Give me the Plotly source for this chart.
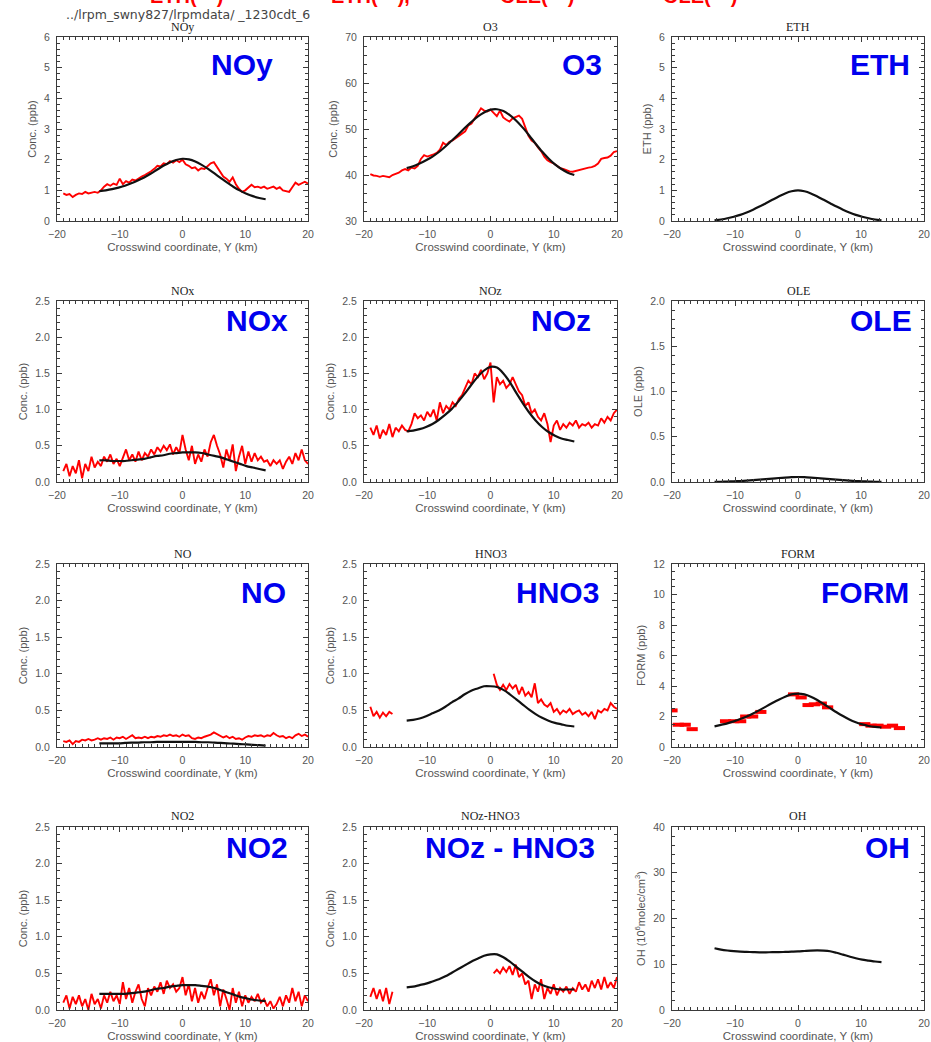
import numpy as np
import plotly.graph_objects as go

W, H = 931, 1042

# ---------------- data ----------------
OBS_X = np.round(np.arange(-19.0, 20.001, 0.5), 2)          # 79 samples, km
MODEL_X = np.round(np.linspace(-13.25, 13.25, 27), 3)         # model crosswind grid, km

NOY_OBS = [0.90, 0.85, 0.88, 0.78, 0.85, 0.90, 0.88, 0.95, 0.90, 0.92,
           0.95, 0.92, 1.00, 1.12, 1.20, 1.15, 1.22, 1.18, 1.38, 1.20,
           1.30, 1.25, 1.35, 1.32, 1.40, 1.45, 1.50, 1.55, 1.62, 1.70,
           1.80, 1.78, 1.88, 1.85, 1.95, 1.90, 1.98, 1.92, 2.00, 1.85,
           1.80, 1.72, 1.75, 1.65, 1.72, 1.70, 1.78, 1.88, 1.92, 1.75,
           1.60, 1.45, 1.38, 1.28, 1.42, 1.20, 1.05, 0.95, 1.00, 1.10,
           1.18, 1.10, 1.12, 1.08, 1.12, 1.05, 1.08, 1.12, 1.05, 1.10,
           1.00, 0.98, 0.95, 1.10, 1.25, 1.18, 1.22, 1.28, 1.22]
NOY_MOD = [0.97, 1.00, 1.04, 1.09, 1.15, 1.23, 1.32, 1.42, 1.54, 1.67, 1.80, 1.91, 1.99, 2.03,
           2.01, 1.94, 1.83, 1.70, 1.55, 1.40, 1.25, 1.11, 0.99, 0.89, 0.81, 0.75, 0.71]

O3_OBS = [40.2, 39.9, 39.8, 39.6, 39.8, 39.7, 39.5, 40.0, 40.3, 40.5,
          41.0, 41.3, 41.0, 41.6, 41.4, 42.0, 43.5, 44.3, 44.0, 44.2,
          44.5, 44.8, 45.5, 47.0, 46.5, 47.2, 47.5, 48.0, 48.5, 49.0,
          49.5, 50.8, 51.2, 52.3, 53.5, 54.5, 54.0, 53.8, 54.2, 53.5,
          52.8, 54.0, 52.5, 52.0, 51.6, 52.3, 52.6, 52.9, 52.2, 50.5,
          48.5, 47.5, 47.0, 46.0, 45.2, 44.0, 43.2, 42.8, 42.5, 42.0,
          41.5, 41.3, 41.0, 40.8, 40.7, 40.9, 41.0, 41.2, 41.5, 41.6,
          41.7, 42.0, 42.5, 43.5, 43.7, 43.8, 44.2, 45.0, 45.2]
O3_MOD = [41.5, 41.9, 42.5, 43.2, 44.0, 45.0, 46.2, 47.5, 48.8, 50.2, 51.5, 52.7, 53.6, 54.2,
          54.3, 53.9, 53.0, 51.8, 50.3, 48.6, 46.8, 45.1, 43.6, 42.3, 41.3, 40.5, 40.0]

ETH_MOD = [0.02, 0.05, 0.09, 0.14, 0.20, 0.28, 0.37, 0.47, 0.58, 0.69, 0.80, 0.90, 0.97, 1.00,
           0.97, 0.90, 0.80, 0.69, 0.58, 0.47, 0.37, 0.28, 0.20, 0.14, 0.09, 0.05, 0.02]

NOX_OBS = [0.15, 0.25, 0.08, 0.22, 0.12, 0.30, 0.05, 0.25, 0.15, 0.35,
           0.20, 0.28, 0.22, 0.35, 0.28, 0.38, 0.25, 0.32, 0.22, 0.35,
           0.45, 0.30, 0.38, 0.28, 0.42, 0.30, 0.40, 0.35, 0.45, 0.38,
           0.48, 0.42, 0.50, 0.44, 0.52, 0.38, 0.48, 0.40, 0.65, 0.45,
           0.30, 0.50, 0.25, 0.38, 0.28, 0.45, 0.35, 0.55, 0.65, 0.50,
           0.38, 0.20, 0.45, 0.30, 0.52, 0.15, 0.35, 0.50, 0.25, 0.42,
           0.28, 0.40, 0.30, 0.35, 0.28, 0.30, 0.22, 0.30, 0.25, 0.30,
           0.18, 0.28, 0.35, 0.25, 0.40, 0.30, 0.45, 0.30, 0.25]
NOX_MOD = [0.30, 0.30, 0.29, 0.29, 0.29, 0.30, 0.31, 0.32, 0.34, 0.36, 0.37, 0.39, 0.40, 0.41,
           0.41, 0.41, 0.40, 0.38, 0.36, 0.34, 0.31, 0.28, 0.25, 0.22, 0.20, 0.18, 0.16]

NOZ_OBS = [0.75, 0.65, 0.78, 0.60, 0.72, 0.65, 0.80, 0.62, 0.75, 0.70,
           0.78, 0.72, 0.70, 0.80, 0.95, 0.88, 0.92, 0.85, 0.97, 0.90,
           1.00, 0.85, 1.10, 0.95, 1.05, 1.00, 1.10, 1.05, 1.15, 1.20,
           1.30, 1.40, 1.35, 1.50, 1.45, 1.55, 1.42, 1.50, 1.65, 1.10,
           1.45, 1.35, 1.40, 1.30, 1.35, 1.45, 1.35, 1.25, 1.20, 1.05,
           1.10, 0.95, 1.00, 0.90, 0.85, 0.95, 0.80, 0.55, 0.78, 0.85,
           0.72, 0.80, 0.75, 0.82, 0.78, 0.85, 0.75, 0.80, 0.78, 0.82,
           0.75, 0.80, 0.78, 0.88, 0.82, 0.90, 0.85, 0.95, 1.00]
NOZ_MOD = [0.70, 0.71, 0.73, 0.76, 0.80, 0.86, 0.93, 1.01, 1.11, 1.22, 1.34, 1.45, 1.54, 1.59,
           1.58, 1.50, 1.38, 1.23, 1.09, 0.96, 0.85, 0.76, 0.69, 0.64, 0.60, 0.58, 0.56]

OLE_MOD = [0.001, 0.003, 0.005, 0.008, 0.011, 0.015, 0.020, 0.026, 0.032, 0.038, 0.044, 0.049, 0.053, 0.055,
           0.053, 0.049, 0.044, 0.038, 0.032, 0.026, 0.020, 0.015, 0.011, 0.008, 0.005, 0.003, 0.001]

NO_OBS = [0.08, 0.07, 0.09, 0.04, 0.08, 0.07, 0.10, 0.09, 0.11, 0.09,
          0.10, 0.12, 0.10, 0.12, 0.11, 0.13, 0.10, 0.13, 0.12, 0.14,
          0.11, 0.13, 0.16, 0.12, 0.13, 0.12, 0.14, 0.12, 0.14, 0.13,
          0.15, 0.14, 0.16, 0.15, 0.17, 0.15, 0.16, 0.14, 0.17, 0.15,
          0.16, 0.12, 0.11, 0.13, 0.12, 0.14, 0.15, 0.17, 0.20, 0.18,
          0.15, 0.13, 0.15, 0.12, 0.14, 0.11, 0.12, 0.10, 0.13, 0.15,
          0.14, 0.16, 0.15, 0.16, 0.14, 0.16, 0.15, 0.19, 0.16, 0.14,
          0.15, 0.12, 0.14, 0.12, 0.16, 0.18, 0.15, 0.17, 0.14]
NO_MOD = [0.050, 0.050, 0.050, 0.050, 0.055, 0.060, 0.060, 0.065, 0.065, 0.070, 0.070, 0.070, 0.070, 0.070,
          0.070, 0.070, 0.065, 0.065, 0.060, 0.055, 0.050, 0.045, 0.040, 0.035, 0.030, 0.025, 0.020]

HNO3_OBS = ([0.55, 0.42, 0.48, 0.40, 0.47, 0.42, 0.48, 0.45]
            + [None] * 31
            + [1.00, 0.85, 0.78, 0.85, 0.78, 0.86, 0.80, 0.85, 0.72, 0.82,
               0.70, 0.75, 0.68, 0.87, 0.60, 0.65, 0.58, 0.55, 0.60, 0.48,
               0.52, 0.45, 0.50, 0.47, 0.52, 0.45, 0.48, 0.50, 0.44, 0.47,
               0.42, 0.48, 0.38, 0.50, 0.47, 0.52, 0.50, 0.60, 0.55, 0.52])
HNO3_MOD = [0.36, 0.37, 0.39, 0.42, 0.46, 0.50, 0.55, 0.61, 0.66, 0.72, 0.77, 0.80, 0.83, 0.83,
            0.82, 0.78, 0.72, 0.65, 0.58, 0.51, 0.45, 0.40, 0.36, 0.33, 0.31, 0.29, 0.28]

FORM_OBS_X = [-20.0, -19.0, -17.9, -16.8, -11.5, -10.2, -9.1, -8.3, -7.2, -5.9, -0.7,
              0.5, 1.6, 2.6, 3.7, 4.7, 10.6, 11.6, 12.7, 13.9, 15.0, 16.1]
FORM_OBS = [2.40, 1.46, 1.46, 1.17, 1.69, 1.69, 1.69, 2.00, 2.00, 2.30, 3.45,
            3.25, 2.75, 2.80, 2.85, 2.60, 1.50, 1.40, 1.40, 1.33, 1.40, 1.24]
FORM_MOD = [1.35, 1.45, 1.55, 1.68, 1.83, 2.00, 2.20, 2.42, 2.65, 2.88, 3.10, 3.30, 3.45, 3.50,
            3.45, 3.30, 3.08, 2.82, 2.55, 2.28, 2.03, 1.80, 1.62, 1.48, 1.38, 1.32, 1.28]

NO2_OBS = [0.10, 0.20, 0.02, 0.18, 0.08, 0.20, 0.05, 0.15, 0.00, 0.22,
           0.08, 0.15, 0.02, 0.20, 0.10, 0.25, 0.12, 0.20, 0.08, 0.38,
           0.15, 0.30, 0.10, 0.25, 0.35, 0.15, 0.05, 0.30, 0.20, 0.32,
           0.25, 0.38, 0.22, 0.40, 0.30, 0.35, 0.25, 0.30, 0.45, 0.20,
           0.35, 0.12, 0.30, 0.10, 0.25, 0.15, 0.30, 0.42, 0.20, 0.35,
           0.05, 0.28, 0.15, 0.00, 0.30, 0.10, 0.25, 0.05, 0.20, 0.10,
           0.18, 0.12, 0.22, 0.10, 0.15, 0.05, 0.12, 0.02, 0.08, 0.18,
           0.05, 0.20, 0.10, 0.30, 0.12, 0.25, 0.05, 0.20, 0.12]
NO2_MOD = [0.22, 0.22, 0.22, 0.22, 0.22, 0.23, 0.24, 0.25, 0.27, 0.29, 0.30, 0.32, 0.33, 0.34,
           0.34, 0.34, 0.33, 0.32, 0.30, 0.27, 0.24, 0.21, 0.18, 0.16, 0.14, 0.13, 0.12]

NOZHNO3_OBS = ([0.18, 0.30, 0.15, 0.28, 0.12, 0.30, 0.08, 0.25]
               + [None] * 31
               + [0.50, 0.55, 0.50, 0.58, 0.52, 0.60, 0.48, 0.62, 0.45, 0.50,
                  0.35, 0.40, 0.15, 0.35, 0.25, 0.42, 0.15, 0.30, 0.22, 0.35,
                  0.20, 0.30, 0.25, 0.32, 0.22, 0.30, 0.25, 0.38, 0.28, 0.35,
                  0.25, 0.40, 0.30, 0.42, 0.28, 0.45, 0.30, 0.38, 0.30, 0.45])
NOZHNO3_MOD = [0.31, 0.32, 0.34, 0.36, 0.39, 0.42, 0.46, 0.51, 0.56, 0.61, 0.66, 0.70, 0.74, 0.76,
               0.76, 0.72, 0.66, 0.59, 0.52, 0.45, 0.39, 0.34, 0.31, 0.29, 0.28, 0.28, 0.28]

OH_MOD = [13.5, 13.2, 13.0, 12.85, 12.75, 12.7, 12.65, 12.6, 12.6, 12.65, 12.65, 12.7, 12.75, 12.8,
          12.9, 13.0, 13.05, 13.0, 12.85, 12.5, 12.1, 11.7, 11.3, 11.0, 10.8, 10.6, 10.45]

PANEL_TITLES = ["NOy", "O3", "ETH", "NOx", "NOz", "OLE", "NO", "HNO3", "FORM", "NO2", "NOz-HNO3", "OH"]
BIG_LABELS = ["NOy", "O3", "ETH", "NOx", "NOz", "OLE", "NO", "HNO3", "FORM", "NO2", "NOz - HNO3", "OH"]
Y_TITLES = ["Conc. (ppb)", "Conc. (ppb)", "ETH (ppb)", "Conc. (ppb)", "Conc. (ppb)", "OLE (ppb)",
            "Conc. (ppb)", "Conc. (ppb)", "FORM (ppb)", "Conc. (ppb)", "Conc. (ppb)",
            "OH (10<sup>6</sup>molec/cm<sup>3</sup>)"]
Y_RANGES = [(0, 6), (30, 70), (0, 6), (0, 2.5), (0, 2.5), (0, 2.0),
            (0, 2.5), (0, 2.5), (0, 12), (0, 2.5), (0, 2.5), (0, 40)]
Y_DTICK = [1, 10, 1, 0.5, 0.5, 0.5, 0.5, 0.5, 2, 0.5, 0.5, 10]
Y_MINOR = [0.2, 2, 0.2, 0.1, 0.1, 0.1, 0.1, 0.1, 0.5, 0.1, 0.1, 2]
Y_FMT = ["d", "d", "d", ".1f", ".1f", ".1f", ".1f", ".1f", "d", ".1f", ".1f", "d"]
OBS = [NOY_OBS, O3_OBS, None, NOX_OBS, NOZ_OBS, None, NO_OBS, HNO3_OBS, "FORM", NO2_OBS, NOZHNO3_OBS, None]
MOD = [NOY_MOD, O3_MOD, ETH_MOD, NOX_MOD, NOZ_MOD, OLE_MOD, NO_MOD, HNO3_MOD, FORM_MOD,
       NO2_MOD, NOZHNO3_MOD, OH_MOD]
X_TITLE = "Crosswind coordinate, Y (km)"
PATH_TEXT = "../lrpm_swny827/lrpmdata/ _1230cdt_6"
HEADER_RED = ["ETH(\u2014)", "ETH(\u2014),", "OLE(\u2014)", "OLE(\u2014)"]

# ---------------- layout geometry (pixels) ----------------
COLS = [(57, 308), (364, 617), (672, 924)]
ROWS = [(37, 221), (301, 482), (564, 747), (827, 1010)]
LABEL_RIGHT = [275, 604, 912, 290, 593, 914, 288, 601, 911, 290, 597, 912]
LABEL_Y = [64, 320, 592, 847]
TITLE_Y = [27, 291, 554, 816]

AX_COL = "#3a3a3a"
TXT_COL = "#555555"
SANS = "Liberation Sans, Arial, sans-serif"
TICK_FONT = dict(family=SANS, size=10.5, color=TXT_COL)


def fx(p):
    return p / W


def fy(p):
    return 1 - p / H


fig = go.Figure()
annotations = []
layout = {}

for i in range(12):
    r, c = divmod(i, 3)
    n = i + 1
    xa = "x" if n == 1 else f"x{n}"
    ya = "y" if n == 1 else f"y{n}"
    xkey = "xaxis" if n == 1 else f"xaxis{n}"
    ykey = "yaxis" if n == 1 else f"yaxis{n}"
    x0, x1 = COLS[c]
    y0, y1 = ROWS[r]

    layout[xkey] = dict(
        domain=[fx(x0), fx(x1)], anchor=ya, range=[-20, 20], tick0=0, dtick=10,
        showline=True, linecolor=AX_COL, linewidth=1, mirror="ticks",
        ticks="inside", ticklen=5, tickcolor=AX_COL, tickwidth=1,
        minor=dict(ticks="inside", ticklen=3, dtick=1, tick0=0, tickcolor=AX_COL,
                   tickwidth=1, showgrid=False),
        showgrid=False, zeroline=False, tickfont=TICK_FONT, ticklabelstandoff=3,
        automargin=False,
        title=dict(text=X_TITLE, font=dict(family=SANS, size=11.5, color=TXT_COL), standoff=4),
        fixedrange=True,
    )
    lo, hi = Y_RANGES[i]
    layout[ykey] = dict(
        domain=[fy(y1), fy(y0)], anchor=xa, range=[lo, hi], tick0=lo, dtick=Y_DTICK[i],
        tickformat=Y_FMT[i],
        showline=True, linecolor=AX_COL, linewidth=1, mirror="ticks",
        ticks="inside", ticklen=5, tickcolor=AX_COL, tickwidth=1,
        minor=dict(ticks="inside", ticklen=3, dtick=Y_MINOR[i], tick0=lo, tickcolor=AX_COL,
                   tickwidth=1, showgrid=False),
        showgrid=False, zeroline=False, tickfont=TICK_FONT, ticklabelstandoff=4,
        automargin=False,
        title=dict(text=Y_TITLES[i], font=dict(family=SANS, size=11, color=TXT_COL), standoff=5),
        fixedrange=True,
    )

    obs = OBS[i]
    if isinstance(obs, str):
        fig.add_trace(go.Scatter(x=FORM_OBS_X, y=FORM_OBS, xaxis=xa, yaxis=ya, mode="markers",
                                 marker=dict(symbol="line-ew", size=8,
                                             line=dict(color="#ff0000", width=4)),
                                 showlegend=False, hoverinfo="skip"))
    elif obs is not None:
        fig.add_trace(go.Scatter(x=OBS_X, y=obs, xaxis=xa, yaxis=ya, mode="lines",
                                 line=dict(color="#ff0000", width=1.9), connectgaps=False,
                                 showlegend=False, hoverinfo="skip"))
    fig.add_trace(go.Scatter(x=MODEL_X, y=MOD[i], xaxis=xa, yaxis=ya, mode="lines",
                             line=dict(color="#111111", width=2.2, shape="spline", smoothing=0.8),
                             showlegend=False, hoverinfo="skip"))

    annotations.append(dict(text=PANEL_TITLES[i], x=fx((x0 + x1) / 2), y=fy(TITLE_Y[r]),
                            xref="paper", yref="paper", xanchor="center", yanchor="middle",
                            showarrow=False,
                            font=dict(family="Liberation Serif, DejaVu Serif, serif", size=12,
                                      color="#222222")))
    annotations.append(dict(text=BIG_LABELS[i], x=fx(LABEL_RIGHT[i]), y=fy(LABEL_Y[r]),
                            xref="paper", yref="paper", xanchor="right", yanchor="middle",
                            showarrow=False,
                            font=dict(family=SANS, size=30, color="#0000ee", weight="bold")))

annotations.append(dict(text=PATH_TEXT, x=fx(64), y=fy(14), xref="paper", yref="paper",
                        xanchor="left", yanchor="middle", showarrow=False,
                        font=dict(family="DejaVu Sans, sans-serif", size=12.5, color="#444444")))
for txt, cx in zip(HEADER_RED, [186, 370, 537, 700]):
    annotations.append(dict(text=txt, x=fx(cx), y=fy(9), xref="paper", yref="paper",
                            xanchor="center", yanchor="bottom", showarrow=False,
                            font=dict(family=SANS, size=20, color="#ff0000", weight="bold")))

fig.update_layout(
    template="none",
    width=W, height=H, margin=dict(l=0, r=0, t=0, b=0, autoexpand=False),
    paper_bgcolor="white", plot_bgcolor="white",
    annotations=annotations, showlegend=False, **layout,
)

fig.write_html("out.html", config=dict(displayModeBar=False),
               post_script="document.body.style.margin='0px';document.body.style.overflow='hidden';")
